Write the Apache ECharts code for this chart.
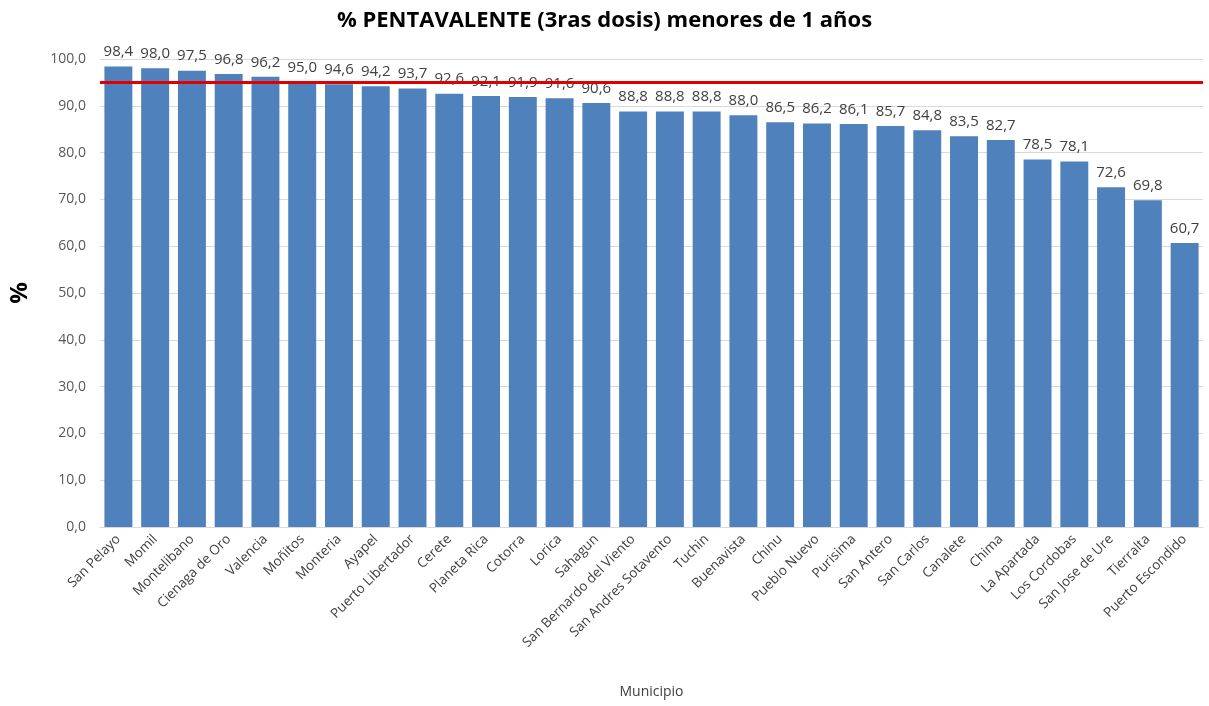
<!DOCTYPE html>
<html>
<head>
<meta charset="utf-8">
<script src="https://cdn.jsdelivr.net/npm/echarts@6/dist/echarts.min.js"></script>
<style>html,body{margin:0;padding:0;background:#fff;}#c{width:1209px;height:706px;}</style>
</head>
<body>
<div id="c"></div>
<script>
const categories = ["San Pelayo","Momil","Montelibano","Cienaga de Oro","Valencia","Moñitos","Monteria","Ayapel","Puerto Libertador","Cerete","Planeta Rica","Cotorra","Lorica","Sahagun","San Bernardo del Viento","San Andres Sotavento","Tuchin","Buenavista","Chinu","Pueblo Nuevo","Purisima","San Antero","San Carlos","Canalete","Chima","La Apartada","Los Cordobas","San Jose de Ure","Tierralta","Puerto Escondido"];
const values = [98.4,98.0,97.5,96.8,96.2,95.0,94.6,94.2,93.7,92.6,92.1,91.9,91.6,90.6,88.8,88.8,88.8,88.0,86.5,86.2,86.1,85.7,84.8,83.5,82.7,78.5,78.1,72.6,69.8,60.7];
const goal = 95;
const yTicks = [0,10,20,30,40,50,60,70,80,90,100];

const fmt = v => v.toFixed(1).replace('.', ',');
const font = "'Open Sans', 'Liberation Sans', sans-serif";

const chart = echarts.init(document.getElementById('c'));
chart.setOption({
  animation: false,
  title: {
    text: '% PENTAVALENTE (3ras dosis) menores de 1 años',
    left: 'center', top: 5,
    textStyle: { fontFamily: font, fontSize: 22, fontWeight: 'bold', color: '#000' }
  },
  grid: { left: 100, right: 6, top: 59, bottom: 179 },
  xAxis: {
    type: 'category',
    data: categories,
    name: 'Municipio',
    nameLocation: 'middle',
    nameGap: 158,
    nameTextStyle: { fontFamily: font, fontSize: 14, color: '#404040' },
    axisTick: { show: false },
    axisLine: { lineStyle: { color: '#D9D9D9' } },
    axisLabel: { interval: 0, rotate: 45, fontFamily: font, fontSize: 13.5, color: '#404040', margin: 10 }
  },
  yAxis: {
    type: 'value',
    min: yTicks[0], max: yTicks[yTicks.length - 1], interval: 10,
    name: '%',
    nameLocation: 'middle',
    nameGap: 68,
    nameRotate: 90,
    nameTextStyle: { fontFamily: font, fontSize: 24, fontWeight: 'bold', color: '#000' },
    axisLine: { show: false },
    axisTick: { show: false },
    splitLine: { lineStyle: { color: '#D9D9D9' } },
    axisLabel: { formatter: v => fmt(v), fontFamily: font, fontSize: 14, color: '#595959', margin: 14 }
  },
  series: [{
    type: 'bar',
    data: values,
    barCategoryGap: '24%',
    itemStyle: { color: '#4F81BD' },
    label: {
      show: true, position: 'top', distance: 7,
      formatter: p => fmt(p.value),
      fontFamily: font, fontSize: 15, color: '#404040'
    },
    markLine: {
      silent: true,
      symbol: ['none', 'none'],
      label: { show: false },
      lineStyle: { color: '#E00000', width: 3, type: 'solid' },
      data: [{ yAxis: goal }]
    }
  }]
});
</script>
</body>
</html>
